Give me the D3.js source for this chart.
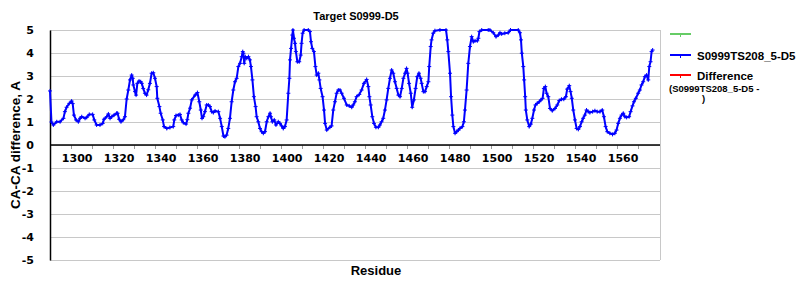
<!DOCTYPE html>
<html><head><meta charset="utf-8">
<script src="https://cdn.jsdelivr.net/npm/d3@7/dist/d3.min.js"></script>
<style>body{margin:0;background:#fff}svg{display:block}</style>
</head><body><svg id="c" width="800" height="300"></svg>
<script>
const titleText = "Target S0999-D5";
const xTitle = "Residue";
const yTitle = "CA-CA difference, A";
const xTickLabels = [1300,1320,1340,1360,1380,1400,1420,1440,1460,1480,1500,1520,1540,1560];
const xTickMarks = d3.range(1297.5, 1570, 10);
const yTickValues = [-5,-4,-3,-2,-1,0,1,2,3,4,5];
const legendNames = ["", "S0999TS208_5-D5", "Difference"];
const legendColors = ["#66cc66", "#0000ff", "#ff0000"];
const legendSub = ["(S0999TS208_5-D5 -", ")"];

const residues = [
1287.3,1288.0,1288.9,1290.5,1292.1,1293.7,1294.4,1295.2,1296.5,1297.6,1298.1,1298.7,1299.7,1300.8,1301.6,1302.4,1304.0,1304.8,1306.0,1307.6,
1308.4,1309.5,1311.1,1312.4,1313.0,1314.3,1315.1,1315.9,1316.7,1317.8,1319.0,1319.5,1320.2,1321.1,1322.2,1323.0,1323.8,1324.6,1325.4,1326.2,
1326.7,1327.0,1327.8,1328.3,1328.9,1329.7,1330.5,1331.0,1331.7,1332.5,1333.3,1334.1,1334.9,1335.7,1336.5,1337.3,1338.1,1338.4,1339.4,1340.0,
1341.0,1341.6,1342.9,1344.4,1346.0,1346.5,1347.3,1348.4,1349.2,1350.0,1350.8,1352.1,1352.7,1353.2,
1354.0,1354.8,1356.4,1357.5,1358.4,1359.1,1359.7,1360.3,1361.1,1361.9,1362.7,1363.5,1364.3,1365.1,1365.9,1367.5,1368.3,1369.1,1369.9,1370.6,
1371.4,1372.2,1373.0,1373.8,1374.6,1375.4,1376.2,1377.0,1377.8,1378.6,1379.1,1379.4,1379.8,1380.3,1381.0,1381.8,1382.5,1383.0,1383.7,1384.4,
1385.2,1385.7,1386.5,1387.3,1388.1,1388.9,1389.7,1390.5,1391.3,1392.1,1392.5,1393.2,1394.1,1394.9,1396.0,1396.8,1397.6,1398.4,1399.2,1400.0,
1400.8,1401.3,1401.6,1402.1,1402.7,1403.0,1403.5,1404.0,1404.4,1405.1,1406.0,1406.7,1407.1,1407.6,1408.3,1410.3,1411.1,1411.6,1412.2,1413.0,
1413.7,1414.3,1415.1,1415.6,1416.2,1417.1,1417.8,1418.3,1419.1,1420.6,1421.4,1422.2,1423.0,1423.8,1424.6,
1425.4,1426.2,1427.3,1428.6,1429.8,1431.0,1431.7,1432.5,1433.3,1434.6,1435.7,1436.8,1438.1,1438.9,1439.4,1440.0,1440.8,1441.6,1442.5,1443.7,
1444.4,1445.2,1446.0,1446.8,1447.6,1448.4,1449.2,1450.0,1450.8,1451.6,1452.4,1453.2,1454.0,1454.8,1455.6,1456.4,1457.1,1457.6,1458.3,1459.1,
1459.8,1460.6,1461.4,1462.2,1463.0,1463.8,1464.3,1465.1,1465.9,1466.7,1467.5,1467.9,1468.6,1469.0,1469.8,1470.6,1473.0,1475.9,1476.5,1477.0,
1477.8,1478.3,1478.9,1479.4,1480.2,1481.0,1481.8,1482.5,1483.7,1484.4,1484.9,1485.7,1486.5,1487.3,1488.1,1488.9,1489.7,1490.8,1491.3,1491.8,
1492.9,1496.0,
1496.8,1498.4,1499.7,1500.8,1501.6,1502.4,1503.9,1505.5,1506.6,1510.3,1511.1,1511.6,1512.0,1512.7,1513.1,1513.6,1513.9,1514.6,1515.5,1516.3,
1517.0,1517.8,1518.5,1519.3,1520.3,1521.1,1521.9,1522.5,1523.2,1523.8,1524.6,1525.4,1526.5,1527.8,1528.9,1529.8,1530.9,1532.0,1533.0,1533.6,
1534.6,1535.2,1535.8,1536.5,1537.3,1538.1,1538.9,1539.7,1540.5,1541.2,1542.0,1542.8,1543.6,1544.4,1545.7,1546.8,1547.9,1549.2,1550.3,1551.1,
1551.9,1552.7,1553.9,1555.2,1556.3,1557.1,1557.9,1558.7,1559.5,1560.3,1561.1,1561.9,1563.1,1563.8,1564.7,1565.4,1566.3,1567.4,1568.2,1569.0,
1569.8,1570.6,1571.4,1572.2,1572.7,1573.3,1573.8,1574.3
];
const caDiff = [
2.35,1.00,0.87,1.01,1.01,1.16,1.45,1.64,1.81,1.91,1.80,1.30,1.09,1.01,1.16,1.23,1.16,1.20,1.33,1.33,
1.09,0.87,0.87,0.94,1.12,1.23,1.35,1.16,1.23,1.30,1.38,1.38,1.12,1.01,1.10,1.23,2.00,2.39,2.83,3.04,
2.90,2.61,2.32,2.17,2.68,2.78,2.75,2.68,2.46,2.25,2.17,2.40,2.68,3.12,3.14,2.90,2.54,2.03,1.67,1.38,
1.09,0.80,0.72,0.76,0.80,1.09,1.28,1.30,1.33,1.09,0.97,0.91,1.10,1.38,
1.60,1.96,2.17,2.28,1.88,1.52,1.16,1.23,1.45,1.74,1.74,1.67,1.45,1.41,1.48,1.45,1.16,0.80,0.39,0.36,
0.43,0.72,1.16,1.88,2.39,2.75,2.90,3.41,3.55,3.84,4.06,3.99,3.55,3.84,3.77,3.84,3.70,3.41,2.83,2.10,
1.67,1.23,1.01,0.72,0.58,0.51,0.58,1.01,1.23,1.38,1.23,1.01,1.09,0.87,1.01,0.94,0.83,0.72,0.80,1.09,
2.25,2.90,3.70,4.20,4.78,5.00,4.64,4.42,4.06,3.62,3.62,3.91,4.42,4.86,5.00,5.00,4.93,4.49,4.20,4.06,
3.41,3.04,3.12,2.83,2.46,2.10,1.52,0.94,0.65,0.77,0.83,1.52,1.88,2.25,2.39,
2.39,2.25,2.03,1.74,1.70,1.64,1.74,1.88,2.10,2.20,2.39,2.68,2.85,2.54,2.10,1.74,1.23,0.94,0.77,0.77,
0.87,1.01,1.16,1.52,1.96,2.46,2.90,3.26,3.12,2.75,2.46,2.17,2.10,2.46,2.90,3.12,3.33,3.12,2.68,2.25,
1.64,1.96,2.46,2.97,3.12,2.90,2.68,2.32,2.32,2.54,2.75,3.41,4.28,4.57,4.86,4.97,5.00,5.00,4.57,4.06,
3.12,2.10,1.30,0.80,0.51,0.58,0.65,0.72,0.80,1.01,1.52,2.39,3.55,4.28,4.71,4.49,4.53,4.53,4.64,4.93,
5.00,5.00,
5.00,4.88,4.71,4.78,4.88,4.83,4.86,4.88,5.00,5.00,4.88,4.57,3.99,3.41,2.83,2.10,1.52,1.09,0.80,0.91,
1.16,1.52,1.74,1.81,1.88,1.96,2.03,2.46,2.54,2.25,2.10,1.59,1.49,1.59,1.74,1.93,1.99,1.99,2.10,2.43,
2.58,2.32,2.03,1.52,1.09,0.72,0.68,0.80,1.01,1.16,1.30,1.52,1.45,1.41,1.45,1.49,1.45,1.45,1.52,1.23,
0.80,0.58,0.51,0.46,0.51,0.65,0.94,1.16,1.30,1.38,1.23,1.20,1.23,1.45,1.70,1.88,2.03,2.25,2.39,2.61,
2.75,2.97,3.04,2.83,3.41,3.62,4.06,4.13
];

const svg = d3.select("#c");
const plot = {left:50, right:660, top:30, bottom:260};
const x = d3.scaleLinear().domain([1287.3, 1577.8]).range([plot.left, plot.right]);
const y = d3.scaleLinear().domain([-5, 5]).range([plot.bottom, plot.top]);
const boldSans = "'Liberation Sans', Arial, sans-serif";
const tickFont = "'DejaVu Sans', sans-serif";

// gridlines
svg.append("g").selectAll("line").data(yTickValues).join("line")
  .attr("x1", plot.left).attr("x2", plot.right)
  .attr("y1", d => y(d)).attr("y2", d => y(d))
  .attr("stroke", "#c8c8c8").attr("stroke-width", 1)
  .attr("shape-rendering", "crispEdges");
svg.append("line").attr("x1", plot.right).attr("x2", plot.right)
  .attr("y1", plot.top).attr("y2", plot.bottom)
  .attr("stroke", "#c8c8c8").attr("shape-rendering", "crispEdges");

// y axis
const yAxis = d3.axisLeft(y).tickValues(yTickValues).tickSize(0).tickPadding(16).tickFormat(d => String(d));
const gy = svg.append("g").attr("transform", `translate(${plot.left},0)`).call(yAxis);
gy.select(".domain").attr("stroke", "#000").attr("stroke-width", 1.5);
gy.selectAll("text").attr("font-family", tickFont).attr("font-weight", "bold")
  .attr("font-size", 11).attr("fill", "#000");

// x axis at zero: tick marks
const gx = svg.append("g").attr("transform", `translate(0,${y(0)})`);
gx.call(d3.axisBottom(x).tickValues(xTickMarks).tickSize(4).tickFormat(""));
gx.select(".domain").remove();
gx.selectAll(".tick line").attr("stroke", "#999").attr("shape-rendering", "crispEdges");
const gxl = svg.append("g").attr("transform", `translate(0,${y(0)})`);
gxl.call(d3.axisBottom(x).tickValues(xTickLabels).tickSize(0).tickPadding(9).tickFormat(d3.format("d")));
gxl.select(".domain").remove();
gxl.selectAll("text").attr("font-family", tickFont).attr("font-weight", "bold")
  .attr("font-size", 11).attr("fill", "#000");
svg.append("line").attr("x1", plot.left).attr("x2", plot.right)
  .attr("y1", y(0)).attr("y2", y(0)).attr("stroke", "#000").attr("stroke-width", 1.5);

// series line
const line = d3.line().x((d, i) => x(residues[i])).y(d => y(d));
svg.append("path").datum(caDiff).attr("d", line)
  .attr("fill", "none").attr("stroke", legendColors[1]).attr("stroke-width", 2)
  .attr("stroke-linejoin", "round");
svg.append("g").selectAll("path").data(caDiff).join("path")
  .attr("d", (d, i) => `M${x(residues[i]) - 2},${y(d)}h4M${x(residues[i])},${y(d) - 2}v4`)
  .attr("stroke", legendColors[1]).attr("stroke-width", 1);

// title
svg.append("text").attr("x", 356).attr("y", 20).attr("text-anchor", "middle")
  .attr("font-family", boldSans).attr("font-weight", "bold")
  .attr("font-size", 11).text(titleText);
// axis titles
svg.append("text").attr("x", 376).attr("y", 275).attr("text-anchor", "middle")
  .attr("font-family", boldSans).attr("font-weight", "bold").attr("font-size", 13).text(xTitle);
svg.append("text").attr("transform", `translate(20,145) rotate(-90)`).attr("text-anchor", "middle")
  .attr("font-family", boldSans).attr("font-weight", "bold").attr("font-size", 13.5).text(yTitle);

// legend
const legRows = [34, 55, 75];
const lg = svg.append("g");
legendNames.forEach((name, i) => {
  lg.append("line").attr("x1", 670).attr("x2", 691).attr("y1", legRows[i]).attr("y2", legRows[i])
    .attr("stroke", legendColors[i]).attr("stroke-width", 2);
  lg.append("path").attr("d", `M680.5,${legRows[i]}v3`).attr("stroke", legendColors[i]).attr("stroke-width", 1);
  lg.append("text").attr("x", 697).attr("y", legRows[i] + 4.5)
    .attr("font-family", boldSans).attr("font-weight", "bold").attr("font-size", 11.5).text(name);
});
lg.append("text").attr("x", 669).attr("y", 92).attr("font-family", boldSans).attr("font-weight", "bold")
  .attr("font-size", 9.5).text(legendSub[0]);
lg.append("text").attr("x", 702).attr("y", 102).attr("font-family", boldSans).attr("font-weight", "bold")
  .attr("font-size", 9.5).text(legendSub[1]);
</script>
</body></html>
